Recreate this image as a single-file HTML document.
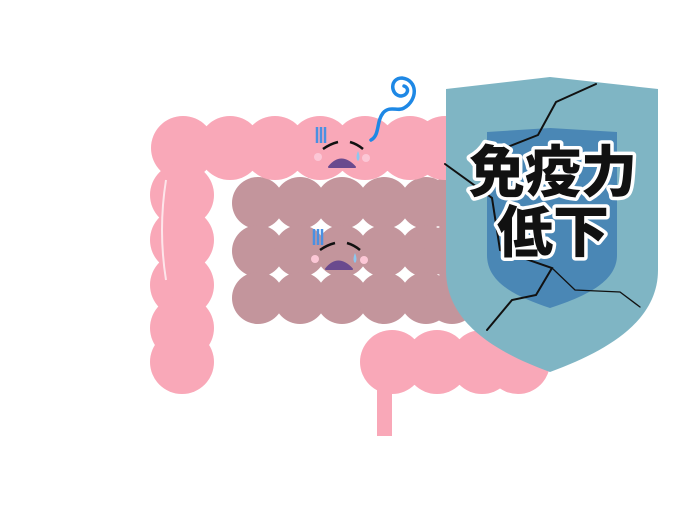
<!DOCTYPE html>
<html><head><style>body{margin:0;background:#fff}svg{display:block}</style></head><body>
<svg width="700" height="526" viewBox="0 0 700 526" xmlns="http://www.w3.org/2000/svg">
<rect width="700" height="526" fill="#fff"/>
<rect x="377" y="380" width="15" height="56" fill="#f9a8b8"/>
<g fill="#c3959c">
<circle cx="258" cy="203" r="26"/><circle cx="300" cy="203" r="26"/><circle cx="342" cy="203" r="26"/><circle cx="384" cy="203" r="26"/><circle cx="426" cy="203" r="26"/><circle cx="450" cy="203" r="26"/>
<circle cx="258" cy="251" r="26"/><circle cx="300" cy="251" r="26"/><circle cx="342" cy="251" r="26"/><circle cx="384" cy="251" r="26"/><circle cx="426" cy="251" r="26"/><circle cx="450" cy="251" r="26"/>
<circle cx="258" cy="298" r="26"/><circle cx="300" cy="298" r="26"/><circle cx="342" cy="298" r="26"/><circle cx="384" cy="298" r="26"/><circle cx="426" cy="298" r="26"/><circle cx="452" cy="298" r="26"/>
</g>
<g fill="#f9a8b8">
<circle cx="183" cy="148" r="32"/><circle cx="230" cy="148" r="32"/><circle cx="275" cy="148" r="32"/><circle cx="320" cy="148" r="32"/><circle cx="365" cy="148" r="32"/><circle cx="410" cy="148" r="32"/><circle cx="445" cy="148" r="32"/>
<circle cx="182" cy="195" r="32"/><circle cx="182" cy="240" r="32"/><circle cx="182" cy="285" r="32"/><circle cx="182" cy="328" r="32"/><circle cx="182" cy="362" r="32"/>
<circle cx="392" cy="362" r="32"/><circle cx="437" cy="362" r="32"/><circle cx="482" cy="362" r="32"/><circle cx="518" cy="362" r="32"/>
</g>
<path d="M166 180 Q158 230 166 280" stroke="#fff" stroke-width="2" fill="none" opacity="0.7"/>
<g>
<g stroke="#4a90e2" stroke-width="2.5"><line x1="317" y1="127" x2="317" y2="143"/><line x1="321" y1="127" x2="321" y2="143"/><line x1="325" y1="127" x2="325" y2="143"/></g>
<path d="M323 149 Q330 144 338 142" stroke="#111" stroke-width="2.5" fill="none"/>
<path d="M350 142 Q357 144 363 149" stroke="#111" stroke-width="2.5" fill="none"/>
<circle cx="318" cy="157" r="4" fill="#fcc7d6"/><circle cx="366" cy="158" r="4" fill="#fcc7d6"/>
<path d="M329 167 Q341 152 355 167 Z" fill="#6a4a8e" stroke="#6a4a8e" stroke-width="2" stroke-linejoin="round"/>
<path d="M358 151 q-3 7 0 10 q3 -3 0 -10z" fill="#8cc8f0"/>
<path d="M371 140 C380 135 376 122 383 113 C390 105 398 112 404 108 C418 100 418 80 402 78 C390 78 390 94 400 96 C408 96 410 88 404 86" stroke="#1e88e5" stroke-width="3.5" fill="none" stroke-linecap="round"/>
<g stroke="#4a90e2" stroke-width="2.5"><line x1="314" y1="229" x2="314" y2="245"/><line x1="318" y1="229" x2="318" y2="245"/><line x1="322" y1="229" x2="322" y2="245"/></g>
<path d="M320 250 Q327 245 335 243" stroke="#111" stroke-width="2.5" fill="none"/>
<path d="M347 243 Q354 245 360 250" stroke="#111" stroke-width="2.5" fill="none"/>
<circle cx="315" cy="259" r="4" fill="#fcc7d6"/><circle cx="364" cy="260" r="4" fill="#fcc7d6"/>
<path d="M326 269 Q338 254 352 269 Z" fill="#6a4a8e" stroke="#6a4a8e" stroke-width="2" stroke-linejoin="round"/>
<path d="M355 253 q-3 7 0 10 q3 -3 0 -10z" fill="#8cc8f0"/>
</g>
<path d="M446 89 L550 77 L658 89 L658 270 C658 320 610 350 550 372 C490 350 446 320 446 270 Z" fill="#7fb5c4"/>
<path d="M487 132 L550 128 L617 132 L617 255 C617 280 590 295 550 308 C510 295 487 280 487 255 Z" fill="#4a87b5"/>
<g stroke="#111" fill="none" stroke-linecap="round">
<path d="M596 84 L556 102 L538 135 L500 150 L470 160" stroke-width="2"/>
<path d="M445 164 L492 198 L500 250 L552 268 L536 295 L512 300 L487 330" stroke-width="2"/>
<path d="M552 268 L575 290 L620 292 L640 307" stroke-width="1.3"/>
</g>
<g font-family="'Liberation Sans','Noto Sans CJK JP',sans-serif" font-weight="900" text-anchor="middle" paint-order="stroke" stroke="#fff" stroke-width="7" stroke-linejoin="round" fill="#111">
<text x="553" y="192" font-size="56">免疫力</text>
<text x="553" y="252" font-size="56">低下</text>
</g>
</svg>
</body></html>
